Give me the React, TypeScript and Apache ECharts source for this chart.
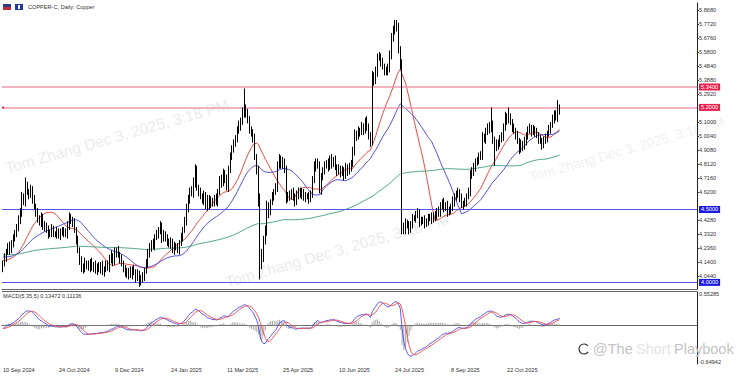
import React, { useEffect, useRef } from "react";
import * as echarts from "echarts";

// ---- data ----
const TITLE = "COPPER-C, Daily: Copper";
const MACD_TITLE = "MACD(5,35,5) 0.13472 0.11136";
const FIRST_OPEN = 4.1;
const closes = [
  4.13, 4.17, 4.21, 4.24, 4.22, 4.27, 4.30, 4.34, 4.37, 4.42,
  4.48, 4.59, 4.55, 4.66, 4.62, 4.60, 4.64, 4.57, 4.52, 4.48,
  4.44, 4.41, 4.45, 4.38, 4.39, 4.36, 4.33, 4.34, 4.37, 4.33,
  4.33, 4.35, 4.32, 4.34, 4.36, 4.34, 4.33, 4.38, 4.45, 4.43,
  4.41, 4.36, 4.29, 4.22, 4.15, 4.11, 4.09, 4.13, 4.12, 4.10,
  4.14, 4.10, 4.12, 4.08, 4.11, 4.09, 4.12, 4.07, 4.09, 4.12,
  4.10, 4.15, 4.17, 4.14, 4.20, 4.22, 4.19, 4.16, 4.13, 4.10,
  4.07, 4.05, 4.08, 4.05, 4.09, 4.07, 4.03, 4.06, 4.00, 4.02,
  4.04, 4.08, 4.13, 4.19, 4.24, 4.27, 4.25, 4.31, 4.33, 4.36,
  4.39, 4.31, 4.33, 4.30, 4.28, 4.26, 4.28, 4.22, 4.25, 4.24,
  4.22, 4.27, 4.31, 4.36, 4.42, 4.50, 4.57, 4.63, 4.61, 4.68,
  4.77, 4.65, 4.62, 4.59, 4.57, 4.60, 4.55, 4.52, 4.57, 4.54,
  4.55, 4.58, 4.55, 4.62, 4.70, 4.68, 4.75, 4.71, 4.65, 4.78,
  4.86, 4.92, 4.95, 4.99, 5.04, 5.07, 5.10, 5.16, 5.19, 5.15,
  5.11, 5.05, 5.02, 4.99, 4.86, 4.77, 4.55, 4.12, 4.18, 4.29,
  4.36, 4.52, 4.49, 4.55, 4.59, 4.62, 4.65, 4.80, 4.84, 4.81,
  4.83, 4.77, 4.57, 4.60, 4.59, 4.62, 4.59, 4.55, 4.60, 4.63,
  4.60, 4.62, 4.58, 4.59, 4.59, 4.57, 4.61, 4.70, 4.79, 4.82,
  4.81, 4.63, 4.72, 4.77, 4.80, 4.82, 4.79, 4.85, 4.81, 4.84,
  4.79, 4.76, 4.78, 4.75, 4.77, 4.73, 4.79, 4.76, 4.79, 4.82,
  4.89, 5.02, 5.00, 5.04, 5.03, 5.06, 5.04, 5.11, 5.07, 5.00,
  4.96, 5.41, 5.38, 5.44, 5.54, 5.55, 5.51, 5.48, 5.45, 5.44,
  5.47, 5.55, 5.68, 5.72, 5.77, 5.75, 5.59, 5.49, 4.38, 4.36,
  4.41, 4.39, 4.36, 4.40, 4.44, 4.44, 4.46, 4.48, 4.41, 4.42,
  4.43, 4.40, 4.42, 4.44, 4.45, 4.43, 4.46, 4.45, 4.49, 4.48,
  4.52, 4.55, 4.51, 4.53, 4.48, 4.50, 4.51, 4.55, 4.58, 4.60,
  4.62, 4.58, 4.53, 4.54, 4.55, 4.59, 4.62, 4.73, 4.76, 4.79,
  4.82, 4.84, 4.86, 4.87, 4.99, 4.98, 5.03, 5.07, 5.05, 5.08,
  4.98, 4.95, 4.93, 4.96, 4.98, 5.00, 5.06, 5.13, 5.11, 5.13,
  5.10, 5.06, 5.04, 5.01, 4.97, 4.91, 4.95, 4.93, 4.97, 5.01,
  5.04, 5.06, 5.03, 5.05, 5.03, 5.01, 4.98, 4.97, 4.94, 4.97,
  4.99, 5.02, 5.05, 5.08, 5.12, 5.15, 5.13, 5.17, 5.19,
];
// upper / lower wick lengths, in hundredths
const wickUp = [
  2,3,2,3,4,2,3,2,3,4, 3,3,2,6,3,2,3,2,3,2, 3,2,3,2,3,2,3,2,3,2, 2,3,2,3,2,2,3,4,3,2,
  2,3,2,3,2,3,2,4,2,3, 2,3,2,3,2,3,2,3,2,3, 3,4,5,3,4,2,3,2,3,2, 2,3,2,3,2,3,2,3,2,3,
  3,2,3,4,3,2,3,2,3,2, 3,2,3,2,3,2,3,2,3,2, 3,2,3,2,3,4,3,2,3,4, 4,3,2,3,2,3,2,5,3,2,
  3,2,3,2,3,4,3,2,3,2, 3,2,3,2,3,4,3,4,14,3, 4,3,2,3,3,2,3,6,5,3, 3,4,3,2,3,2,3,3,4,3,
  3,2,3,2,3,2,3,2,3,2, 2,3,2,3,2,3,2,3,4,3, 3,2,3,2,3,2,3,2,3,2, 3,2,3,2,3,2,3,2,3,2,
  4,3,2,3,2,4,3,2,3,2, 3,4,3,4,3,3,2,3,2,3, 3,4,3,4,3,3,3,3,4,3, 3,2,3,2,3,2,3,3,2,3,
  2,3,2,3,2,3,2,3,2,3, 3,2,3,2,3,2,3,4,3,3, 3,2,3,2,3,2,3,4,3,3, 3,2,3,3,4,3,3,2,3,12,
  3,2,3,2,3,3,3,4,3,7, 3,2,3,2,3,2,3,2,3,2, 3,3,2,3,2,3,2,3,2,3, 3,2,3,2,3,3,3,8,3,
];
const wickDn = [
  3,2,3,2,3,2,3,2,3,2, 2,3,2,3,2,3,2,3,2,3, 3,2,3,2,3,2,3,2,3,2, 2,3,2,3,2,3,2,3,2,3,
  3,2,3,2,3,4,3,2,3,2, 3,2,3,2,3,2,3,2,3,2, 2,3,2,3,2,3,2,3,2,3, 3,2,3,2,3,2,3,2,3,2,
  2,3,2,3,2,3,2,3,2,3, 3,4,3,2,3,2,3,2,3,2, 2,3,2,3,2,3,2,3,2,3, 3,2,3,2,3,4,5,3,2,3,
  2,3,2,3,2,3,2,3,2,3, 3,2,3,2,3,2,3,2,3,2, 2,3,2,3,2,3,3,10,3,4, 3,4,5,3,2,3,2,3,2,3,
  3,2,3,2,3,2,3,3,2,3, 2,3,2,3,2,3,2,3,2,3, 3,2,3,2,3,2,3,2,3,2, 2,3,2,3,2,3,2,3,2,3,
  3,2,3,2,3,2,3,2,3,2, 3,2,3,2,3,2,3,2,3,2, 2,3,2,3,2,3,2,3,5,3, 3,2,3,2,3,2,3,2,3,2,
  2,3,2,3,2,3,2,3,2,3, 3,2,3,2,3,2,3,2,3,2, 2,3,2,3,2,3,2,3,2,3, 3,2,3,2,3,2,3,2,3,2,
  3,15,3,2,3,2,3,2,3,2, 2,3,2,3,2,3,2,3,2,3, 3,2,3,2,3,2,3,2,3,2, 2,3,2,3,2,3,2,3,2,
];
const TOTAL_SLOTS = 397; // bars + empty right-hand shift area
const dateTickIndex = [0, 32, 64, 96, 128, 160, 192, 224, 256, 288];
const dateTickLabels = [
  "10 Sep 2024", "24 Oct 2024", "9 Dec 2024", "24 Jan 2025", "11 Mar 2025",
  "25 Apr 2025", "10 Jun 2025", "24 Jul 2025", "8 Sep 2025", "22 Oct 2025",
];
const priceTicks = [
  4.044, 4.14, 4.236, 4.332, 4.428, 4.62, 4.716, 4.812, 4.908, 5.004, 5.1,
  5.292, 5.388, 5.484, 5.58, 5.676, 5.772, 5.868,
];
const hLineValues = [5.34, 5.2, 4.5, 4.0];
const hLineColors = ["#ec9aaa", "#ec9aaa", "#5656e6", "#5656e6"];
const hTagColors = ["#e8204a", "#e8204a", "#1c1ce0", "#1c1ce0"];
const macdTicks = [0.55285, -0.64942];
const maPeriods = [20, 35, 150];
const maSeeds = [4.15, 4.175, 4.19];
const maColors = ["#e8342c", "#3c3cd8", "#3a9a78"];
const WATERMARK = "Tom Zhang Dec 3, 2025, 3:18 PM";

// ---- derived ----
const opens = closes.map((c, i) => (i === 0 ? FIRST_OPEN : closes[i - 1]));
const candles = closes.map((c, i) => {
  const o = opens[i];
  const hi = Math.max(o, c) + wickUp[i] / 100;
  const lo = Math.min(o, c) - wickDn[i] / 100;
  return [o, c, +lo.toFixed(3), +hi.toFixed(3)];
});
function sma(src: number[], p: number, seed: number) {
  return src.map((_, i) => {
    let s = 0;
    for (let k = i - p + 1; k <= i; k++) s += k >= 0 ? src[k] : seed;
    return +(s / p).toFixed(4);
  });
}
function ema(src: number[], p: number, seed: number) {
  const k = 2 / (p + 1);
  let prev = seed;
  return src.map((v) => (prev = prev + k * (v - prev)));
}
const ema5 = ema(closes, 5, 4.12);
const ema35 = ema(closes, 35, 4.18);
const macd = closes.map((_, i) => ema5[i] - ema35[i]);
const signal = sma(macd, 5, macd[0]);
const hist = macd.map((m, i) => +(m - signal[i]).toFixed(4));
const cats = Array.from({ length: TOTAL_SLOTS }, (_, i) => String(i));
const labelMap: Record<number, string> = {};
dateTickIndex.forEach((ix, j) => (labelMap[ix] = dateTickLabels[j]));

const FONT = "Liberation Sans";
const FS = 5.6;

export default function App() {
  const ref = useRef<HTMLDivElement>(null);
  useEffect(() => {
    if (!ref.current) return;
    const chart = echarts.init(ref.current, undefined, { renderer: "svg" });
    const grids = [
      { left: 2, right: 41, top: 3, height: 286 },
      { left: 2, right: 41, top: 292, height: 72 },
    ];
    const wm = (x: number, y: number, fs: number, fill: string) => ({
      type: "text", x, y, rotation: 0.28, z: -5, silent: true,
      style: { text: WATERMARK, fontSize: fs, fill, fontFamily: FONT, textVerticalAlign: "bottom" },
    });
    const option: any = {
      animation: false,
      backgroundColor: "#ffffff",
      textStyle: { fontFamily: FONT },
      grid: grids,
      xAxis: [
        {
          type: "category", gridIndex: 0, data: cats, boundaryGap: true,
          axisLine: { show: true, lineStyle: { color: "#666", width: 1 } },
          axisTick: { show: false }, axisLabel: { show: false }, splitLine: { show: false },
        },
        {
          type: "category", gridIndex: 1, data: cats, boundaryGap: true,
          axisLine: { show: true, lineStyle: { color: "#666", width: 1 } },
          axisTick: { show: false },
          axisLabel: {
            show: true, fontSize: FS, color: "#333", align: "left", margin: 3,
            interval: (idx: number) => labelMap[idx] !== undefined,
            formatter: (_v: string, idx: number) => labelMap[idx] || "",
          },
          splitLine: { show: false },
        },
      ],
      yAxis: [
        {
          type: "value", gridIndex: 0, position: "right", min: 3.9548, max: 5.916, scale: true,
          axisLine: { show: true, lineStyle: { color: "#222", width: 1 } },
          axisTick: { show: true, length: 2, customValues: priceTicks, lineStyle: { color: "#333" } },
          axisLabel: {
            show: true, fontSize: FS, color: "#333", margin: 2,
            customValues: priceTicks, formatter: (v: number) => v.toFixed(4),
          },
          splitLine: { show: false },
        },
        {
          type: "value", gridIndex: 1, position: "right", min: -0.68, max: 0.59,
          axisLine: { show: true, lineStyle: { color: "#222", width: 1 } },
          axisTick: { show: false },
          axisLabel: {
            show: true, fontSize: FS, color: "#333", margin: 2,
            customValues: macdTicks, formatter: (v: number) => v.toFixed(5),
          },
          splitLine: { show: false },
        },
      ],
      series: [
        {
          type: "candlestick", xAxisIndex: 0, yAxisIndex: 0, data: candles, barWidth: 1.2, z: 5,
          itemStyle: { color: "#ffffff", color0: "#000000", borderColor: "#000000", borderColor0: "#000000", borderWidth: 1 },
          markLine: {
            silent: true, symbol: ["none", "none"], animation: false,
            data: hLineValues.map((v, i) => ({
              yAxis: v,
              lineStyle: { color: hLineColors[i], width: i < 2 ? 1.6 : 1, type: "solid" },
              label: {
                show: true, position: "end", distance: 2, formatter: v.toFixed(4),
                color: "#ffffff", backgroundColor: hTagColors[i], fontSize: FS, padding: [1, 2, 0, 2],
              },
            })),
          },
        },
        ...maPeriods.map((p, j) => ({
          type: "line", xAxisIndex: 0, yAxisIndex: 0, data: sma(closes, p, maSeeds[j]),
          showSymbol: false, symbol: "none", z: 4,
          lineStyle: { color: maColors[j], width: 0.9 },
        })),
        {
          type: "bar", xAxisIndex: 1, yAxisIndex: 1, data: hist, barWidth: 0.8,
          itemStyle: { color: "#a8a8a8" }, z: 2,
        },
        {
          type: "line", xAxisIndex: 1, yAxisIndex: 1, data: macd.map((v) => +v.toFixed(4)),
          showSymbol: false, symbol: "none", lineStyle: { color: "#4848f0", width: 0.9 }, z: 4,
        },
        {
          type: "line", xAxisIndex: 1, yAxisIndex: 1, data: signal,
          showSymbol: false, symbol: "none", lineStyle: { color: "#f04848", width: 0.9 }, z: 4,
        },
      ],
      graphic: {
        elements: [
          wm(8, 176, 15.5, "#ececec"),
          wm(228, 290, 15.5, "#ececec"),
          wm(532, 184, 13.5, "#f1f1f1"),
          { type: "line", z: 10, shape: { x1: 2, y1: 291.5, x2: 697, y2: 291.5 }, style: { stroke: "#666", lineWidth: 1 } },
          { type: "rect", z: 10, shape: { x: 3, y: 4, width: 8, height: 6 }, style: { fill: "#2a3f8a" } },
          { type: "rect", z: 10, shape: { x: 3, y: 7, width: 8, height: 3 }, style: { fill: "#c0303a" } },
          { type: "rect", z: 10, shape: { x: 15, y: 4, width: 8, height: 6 }, style: { fill: "#1e3a9a" } },
          { type: "rect", z: 10, shape: { x: 18, y: 5, width: 2, height: 4 }, style: { fill: "#ffffff" } },
          { type: "text", x: 28, y: 7, z: 10,
            style: { text: TITLE, fontSize: FS, fill: "#333", fontFamily: FONT, textVerticalAlign: "middle" } },
          { type: "text", x: 3, y: 296, z: 10,
            style: { text: MACD_TITLE, fontSize: FS, fill: "#333", fontFamily: FONT, textVerticalAlign: "middle" } },
          { type: "circle", z: 10, shape: { cx: 3, cy: 107.5, r: 1 }, style: { fill: "#d02040" } },
          { type: "arc", z: 10, shape: { cx: 584, cy: 349, r: 5, startAngle: 0.6, endAngle: 5.6 },
            style: { stroke: "#333", lineWidth: 1.2, fill: "none" } },
          { type: "text", x: 593, y: 349, z: 10,
            style: {
              text: "{a|@The} {b|Short} {a|Playbook}", fontFamily: FONT, textVerticalAlign: "middle",
              rich: {
                a: { fontSize: 14.5, fill: "#c4c4c4", fontFamily: FONT },
                b: { fontSize: 14.5, fill: "#e4e4e4", fontFamily: FONT },
              },
            } },
        ],
      },
    };
    chart.setOption(option);
    return () => chart.dispose();
  }, []);
  return (
    <div
      ref={ref}
      style={{ position: "fixed", left: 0, top: 0, width: 738, height: 377, background: "#fff" }}
    />
  );
}
